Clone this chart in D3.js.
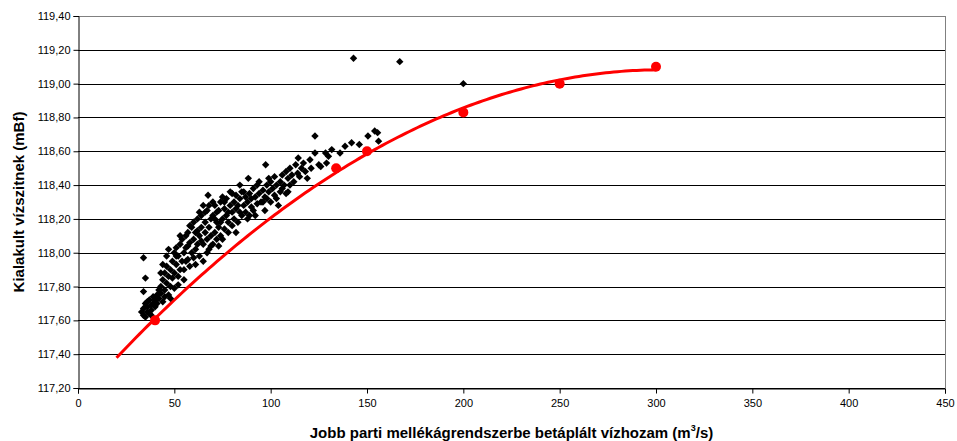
<!DOCTYPE html>
<html>
<head>
<meta charset="utf-8">
<script src="https://cdn.jsdelivr.net/npm/d3@7"></script>
<style>
  body { margin: 0; background: #fff; }
  svg { display: block; font-family: "Liberation Sans", Arial, sans-serif; }
</style>
</head>
<body>
<svg id="chart"></svg>
<script>
// measured points (Q m3/s, water level mBf)
let measured = [
  [33,117.65],[34,117.63],[34,117.67],[35,117.62],[35,117.70],[36,117.65],[36,117.68],[37,117.64],
  [37,117.72],[38,117.66],[38,117.69],[39,117.70],[39,117.74],[40,117.68],[40,117.72],[41,117.75],
  [41,117.70],[42,117.78],[42,117.73],[34,117.97],[35,117.85],[34,117.77],[36,117.71],[38,117.63],
  [43,117.80],[43,117.76],[44,117.84],[44,117.71],[45,117.88],[45,117.78],[46,117.82],[46,117.92],
  [47,117.86],[47,117.75],[48,117.90],[48,117.80],[49,117.95],[49,117.85],[50,118.00],[50,117.88],
  [50,117.79],[52,117.81],[44,117.93],[46,117.98],[47,118.02],[45,117.74],[48,117.73],[43,117.88],
  [51,117.93],[51,118.03],[52,117.98],[52,117.86],[53,118.05],[54,117.95],[54,118.08],
  [55,118.00],[55,117.90],[56,118.10],[56,118.03],[57,117.96],[57,118.12],[58,118.06],[58,117.92],
  [59,118.15],[59,118.00],[60,118.08],[60,117.97],[60,118.18],[53,117.90],[55,117.84],[57,118.04],
  [58,118.16],[56,117.95],[53,118.10],[51,117.98],
  [61,118.02],[61,118.12],[62,118.20],[62,118.05],[63,118.10],[63,117.98],[64,118.15],[64,118.22],
  [65,118.05],[65,118.28],[65,117.95],[66,118.12],[66,118.18],[67,118.08],[67,118.25],[67.5,118.34],
  [68,118.02],[68,118.15],[69,118.20],[69,118.10],[70,118.30],[70,118.05],[70,118.22],
  [62,118.13],[63,118.24],[64,118.07],[66,118.24],[67,118.00],[68,118.28],[69,118.04],[61,117.93],
  [71,118.12],[71,118.28],[72,118.18],[72,118.08],[73,118.25],[73,118.15],[74,118.30],[74,118.10],
  [75,118.20],[75,118.33],[76,118.14],[76,118.26],[77,118.22],[77,118.32],[78,118.18],[78,118.12],
  [79,118.28],[79,118.36],[80,118.24],[80,118.35],[80,118.16],[72,118.24],[73,118.04],[75,118.08],
  [76,118.30],[78,118.24],[71,118.20],[74,118.18],
  [81,118.30],[81,118.20],[82,118.34],[82,118.26],[83,118.18],[83,118.28],[84,118.32],[84,118.40],
  [85,118.22],[85,118.36],[86,118.28],[87,118.24],[87,118.33],[88,118.30],[88,118.20],[88.4,118.44],
  [89,118.35],[90,118.27],[90,118.32],[82,118.12],[84,118.24],[86,118.36],[89,118.22],
  [91,118.38],[91,118.25],[92,118.33],[93,118.29],[93,118.40],[94,118.35],[95,118.30],[97.4,118.52],
  [96,118.37],[97,118.33],[97,118.25],[98,118.40],[99,118.36],[100,118.30],[100,118.42],
  [92,118.22],[94,118.42],[96,118.30],[98,118.32],[99,118.44],
  [101,118.38],[102,118.34],[102,118.45],[103,118.40],[104,118.28],[105,118.42],[105,118.36],
  [106,118.46],[107,118.40],[108,118.35],[108,118.48],[109,118.44],[110,118.50],[110,118.40],
  [103,118.32],[106,118.38],[109,118.36],
  [111,118.46],[112,118.42],[113,118.52],[114.3,118.56],[114,118.47],[115,118.45],[116,118.50],
  [117,118.53],[118,118.48],[119,118.44],[120.4,118.55],[121,118.50],[123,118.59],[123,118.69],
  [125,118.52],[126,118.51],[128.5,118.59],[129,118.53],[130,118.57],[131.7,118.61],[136,118.59],
  [138.6,118.63],[142,118.65],[146,118.64],[150.5,118.69],[154,118.72],[155.5,118.71],[156,118.66],
  [143,119.15],[167,119.13],[200,119.00]
]

// calibration points
let calibQ = [40, 134, 150, 200, 250, 300]
let calibH = [117.60, 118.50, 118.60, 118.83, 119.00, 119.10]

let xTicks = [0, 50, 100, 150, 200, 250, 300, 350, 400, 450]
let yTicks = [117.2, 117.4, 117.6, 117.8, 118.0, 118.2, 118.4, 118.6, 118.8, 119.0, 119.2, 119.4]

width = 957
height = 441
let margin = {left: 78, top: 16, right: 12, bottom: 53}
let plotW = width - margin.left - margin.right
let plotH = height - margin.top - margin.bottom

let svg = d3.select('#chart')
  .attr('width', width)
  .attr('height', height)

svg.append('rect').attr('width', width).attr('height', height).attr('fill', '#fff')

let xScale = d3.scaleLinear().domain([0, 450]).range([margin.left, margin.left + plotW])
let yScale = d3.scaleLinear().domain([117.2, 119.4]).range([margin.top + plotH, margin.top])

let fmt = (v) => v.toFixed(2).replace('.', ',')

// gridlines
svg.append('g')
  .selectAll('line')
  .data(yTicks)
  .enter()
  .append('line')
  .attr('x1', xScale(0))
  .attr('x2', xScale(450))
  .attr('y1', (d) => Math.round(yScale(d)) + 0.5)
  .attr('y2', (d) => Math.round(yScale(d)) + 0.5)
  .attr('stroke', (d, i) => i === yTicks.length - 1 ? '#808080' : '#000')
  .attr('stroke-width', 1)

// right border
svg.append('line')
  .attr('x1', Math.round(xScale(450)) + 0.5)
  .attr('x2', Math.round(xScale(450)) + 0.5)
  .attr('y1', yScale(119.4))
  .attr('y2', yScale(117.2))
  .attr('stroke', '#808080')

// axes
let xAxis = d3.axisBottom(xScale).tickValues(xTicks).tickSize(5).tickPadding(6).tickFormat(d3.format('d'))
let yAxis = d3.axisLeft(yScale).tickValues(yTicks).tickSize(5).tickPadding(3).tickFormat(fmt)

let gx = svg.append('g')
  .attr('transform', 'translate(0,' + (Math.round(yScale(117.2)) + 0.5) + ')')
  .call(xAxis)
let gy = svg.append('g')
  .attr('transform', 'translate(' + (Math.round(xScale(0)) + 0.5) + ',0)')
  .call(yAxis)

for (let g of [gx, gy]) {
  g.select('.domain').attr('stroke', '#000')
  g.selectAll('.tick line').attr('stroke', '#000')
  g.selectAll('.tick text').attr('font-size', 11).attr('fill', '#000')
    .attr('font-family', '"Liberation Sans", Arial, sans-serif')
}

// trendline: 2nd order polynomial fit of calibration points
let n = calibQ.length
let S = (f) => d3.sum(calibQ.map((q, i) => f(q, calibH[i])))
let s0 = n, s1 = S(q => q), s2 = S(q => q * q), s3 = S(q => q ** 3), s4 = S(q => q ** 4)
let t0 = S((q, h) => h), t1 = S((q, h) => q * h), t2 = S((q, h) => q * q * h)
let det3 = (m) => m[0][0] * (m[1][1] * m[2][2] - m[1][2] * m[2][1])
  - m[0][1] * (m[1][0] * m[2][2] - m[1][2] * m[2][0])
  + m[0][2] * (m[1][0] * m[2][1] - m[1][1] * m[2][0])
let M = [[s0, s1, s2], [s1, s2, s3], [s2, s3, s4]]
let T = [t0, t1, t2]
let D = det3(M)
let coef = [0, 1, 2].map((k) => det3(M.map((row, r) => row.map((v, c) => c === k ? T[r] : v))) / D)
let trend = d3.range(20, 300.1, 2).map((q) => [q, coef[0] + coef[1] * q + coef[2] * q * q])

svg.append('path')
  .datum(trend)
  .attr('fill', 'none')
  .attr('stroke', '#ff0000')
  .attr('stroke-width', 3)
  .attr('d', d3.line().x(d => xScale(d[0])).y(d => yScale(d[1])))

// measured points as diamonds
let diamond = (r) => 'M0,' + (-r) + 'L' + r + ',0L0,' + r + 'L' + (-r) + ',0Z'
svg.append('g')
  .selectAll('path')
  .data(measured)
  .enter()
  .append('path')
  .attr('transform', (d) => 'translate(' + xScale(d[0]) + ',' + yScale(d[1]) + ')')
  .attr('d', diamond(3.7))
  .attr('fill', '#000')

// calibration points
svg.append('g')
  .selectAll('circle')
  .data(calibQ)
  .enter()
  .append('circle')
  .attr('cx', (q) => xScale(q))
  .attr('cy', (q, i) => yScale(calibH[i]))
  .attr('r', 5)
  .attr('fill', '#ff0000')

// axis titles
let xt = svg.append('text')
  .attr('x', (xScale(0) + xScale(450)) / 2)
  .attr('y', 438)
  .attr('text-anchor', 'middle')
  .attr('font-size', 15)
  .attr('font-weight', 'bold')
xt.append('tspan').text('Jobb parti mellékágrendszerbe betáplált vízhozam (m')
xt.append('tspan').attr('font-size', 9).attr('dy', -7).text('3')
xt.append('tspan').attr('dy', 7).text('/s)')

svg.append('text')
  .attr('transform', 'translate(24,' + (yScale(117.2) + yScale(119.4)) / 2 + ') rotate(-90)')
  .attr('text-anchor', 'middle')
  .attr('font-size', 15)
  .attr('font-weight', 'bold')
  .text('Kialakult vízszitnek (mBf)')
</script>
</body>
</html>
